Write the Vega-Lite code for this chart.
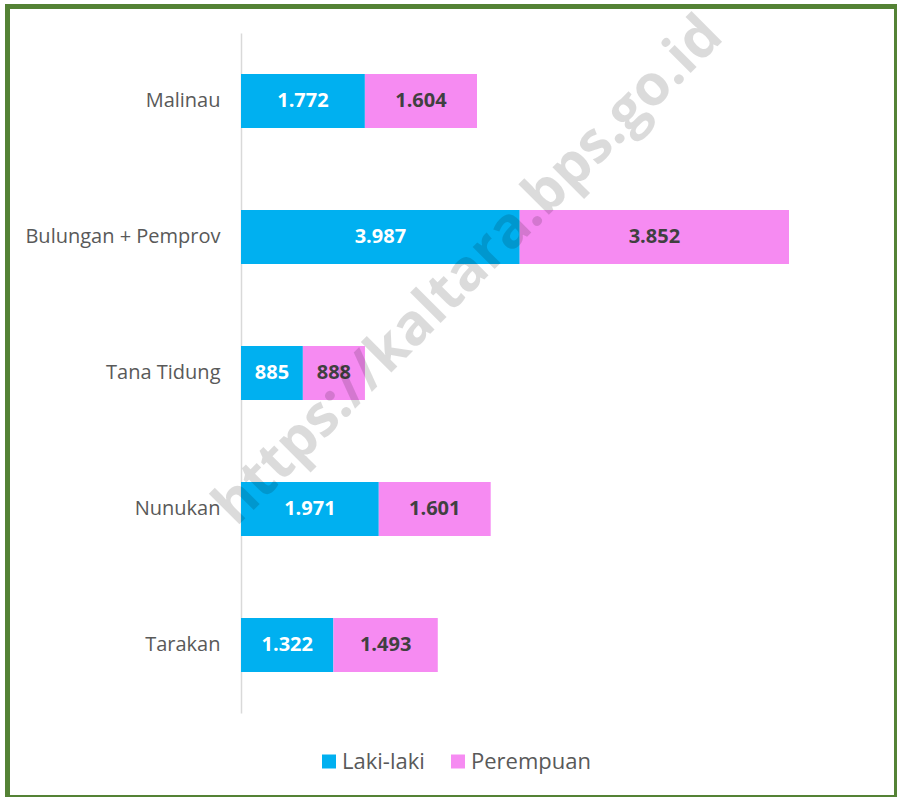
{
  "$schema": "https://vega.github.io/schema/vega-lite/v6.json",
  "width": 889,
  "height": 791,
  "autosize": {"type": "none"},
  "padding": {"left": 7.5, "top": 6.5, "right": 0, "bottom": 0},
  "background": "white",
  "config": {
    "view": {"stroke": "#548235", "strokeWidth": 5},
    "font": "Open Sans",
    "locale": {"number": {"decimal": ",", "thousands": ".", "grouping": [3], "currency": ["Rp", ""]}}
  },
  "encoding": {
    "y": {
      "field": "wilayah",
      "type": "nominal",
      "sort": ["Malinau", "Bulungan + Pemprov", "Tana Tidung", "Nunukan", "Tarakan"],
      "scale": {"range": [26.5, 706.5], "paddingInner": 0.603, "paddingOuter": 0.3015},
      "axis": {
        "title": null,
        "orient": "left",
        "offset": -233.5,
        "ticks": false,
        "labelPadding": 21,
        "labelFontSize": 20,
        "labelLimit": 0,
        "labelColor": "#595959",
        "labelFont": "Open Sans",
        "domainColor": "#d9d9d9",
        "domainWidth": 1.5,
        "grid": false
      }
    }
  },
  "layer": [
    {
      "data": {"name": "penduduk"},
      "transform": [
        {"stack": "jumlah", "groupby": ["wilayah"], "sort": [{"field": "jk", "order": "ascending"}], "as": ["x0", "x1"]}
      ],
      "mark": {"type": "bar"},
      "encoding": {
        "x": {"field": "x0", "type": "quantitative", "scale": {"domain": [0, 7839], "nice": false, "zero": false, "range": [233.5, 781.5]}, "axis": null},
        "x2": {"field": "x1"},
        "color": {
          "field": "jk",
          "type": "nominal",
          "scale": {"domain": ["Laki-laki", "Perempuan"], "range": ["#00B0F0", "#F68BF2"]},
          "legend": {
            "title": null,
            "orient": "none",
            "direction": "horizontal",
            "legendX": 310.5,
            "legendY": 744,
            "padding": 0,
            "symbolType": "square",
            "symbolSize": 196,
            "symbolStrokeWidth": 0,
            "symbolOpacity": 1,
            "labelFontSize": 22,
            "labelColor": "#595959",
            "labelFont": "Open Sans",
            "labelOffset": 2,
            "columnPadding": 22
          }
        }
      }
    },
    {
      "data": {"name": "penduduk"},
      "transform": [
        {"stack": "jumlah", "groupby": ["wilayah"], "sort": [{"field": "jk", "order": "ascending"}], "as": ["x0", "x1"]},
        {"calculate": "(datum.x0 + datum.x1) / 2", "as": "xmid"}
      ],
      "mark": {"type": "text", "font": "Open Sans", "fontWeight": "bold", "fontSize": 20, "align": "center", "baseline": "middle"},
      "encoding": {
        "x": {"field": "xmid", "type": "quantitative"},
        "text": {"field": "jumlah", "type": "quantitative", "format": ",d"},
        "fill": {"condition": {"test": "datum.jk === 'Laki-laki'", "value": "white"}, "value": "#404040"}
      }
    },
    {
      "data": {"values": [{"teks": "https://kaltara.bps.go.id"}]},
      "mark": {"type": "text", "font": "Open Sans", "fontWeight": "bold", "fontSize": 57, "angle": -45, "align": "center", "baseline": "middle", "fill": "#000000", "fillOpacity": 0.14, "dy": 48},
      "encoding": {
        "x": {"datum": 2773, "type": "quantitative"},
        "y": {"datum": "Bulungan + Pemprov", "type": "nominal"},
        "text": {"field": "teks", "type": "nominal"}
      }
    }
  ],
  "datasets": {
    "penduduk": [
      {"wilayah": "Malinau", "jk": "Laki-laki", "jumlah": 1772},
      {"wilayah": "Malinau", "jk": "Perempuan", "jumlah": 1604},
      {"wilayah": "Bulungan + Pemprov", "jk": "Laki-laki", "jumlah": 3987},
      {"wilayah": "Bulungan + Pemprov", "jk": "Perempuan", "jumlah": 3852},
      {"wilayah": "Tana Tidung", "jk": "Laki-laki", "jumlah": 885},
      {"wilayah": "Tana Tidung", "jk": "Perempuan", "jumlah": 888},
      {"wilayah": "Nunukan", "jk": "Laki-laki", "jumlah": 1971},
      {"wilayah": "Nunukan", "jk": "Perempuan", "jumlah": 1601},
      {"wilayah": "Tarakan", "jk": "Laki-laki", "jumlah": 1322},
      {"wilayah": "Tarakan", "jk": "Perempuan", "jumlah": 1493}
    ]
  }
}
